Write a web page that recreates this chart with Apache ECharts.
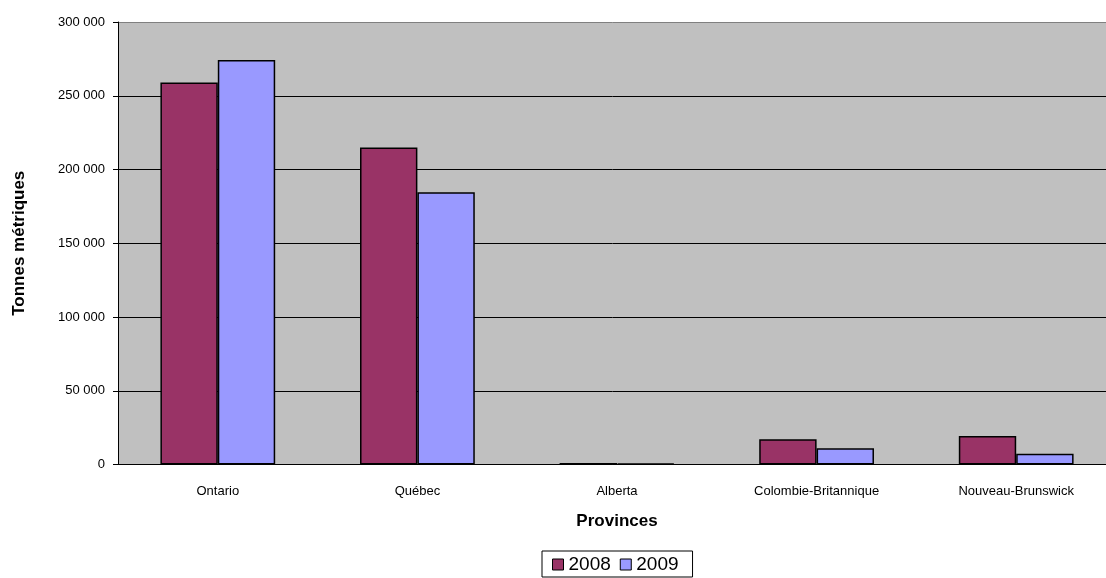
<!DOCTYPE html>
<html>
<head>
<meta charset="utf-8">
<script src="https://cdn.jsdelivr.net/npm/echarts@6/dist/echarts.min.js"></script>
<style>html,body{margin:0;padding:0;background:#fff}#c{width:1106px;height:578px}</style>
</head>
<body>
<div id="c"></div>
<script>
var categories = ['Ontario', 'Québec', 'Alberta', 'Colombie-Britannique', 'Nouveau-Brunswick'];
var values2008 = [259000, 215000, 1100, 17100, 19400];
var values2009 = [274300, 184500, 700, 11000, 7300];
var yTicks = [0, 50000, 100000, 150000, 200000, 250000, 300000];

function fmt(v) { return String(v).replace(/\B(?=(\d{3})+(?!\d))/g, ' '); }

var chart = echarts.init(document.getElementById('c'));
chart.setOption({
  animation: false,
  textStyle: { fontFamily: 'Liberation Sans, Arial, sans-serif', color: '#000' },
  grid: { left: 118, top: 22, width: 998, height: 442.5, outerBoundsMode: 'none', containLabel: false,
          backgroundColor: '#C0C0C0', show: true, borderWidth: 0 },
  legend: {
    bottom: 1, left: 542,
    data: ['2008', '2009'],
    itemWidth: 11, itemHeight: 11, itemGap: 9,
    icon: 'rect',
    textStyle: { fontSize: 19, color: '#000', fontFamily: 'Liberation Sans, Arial, sans-serif' },
    borderColor: '#000', borderWidth: 1, borderRadius: 0,
    padding: [4, 14, 3, 10],
    itemStyle: { borderColor: '#000', borderWidth: 1 }
  },
  xAxis: {
    type: 'category', data: categories,
    name: 'Provinces', nameLocation: 'middle', nameGap: 48,
    nameTextStyle: { fontSize: 17, fontWeight: 'bold', color: '#000' },
    axisLine: { lineStyle: { color: '#000', width: 1 } },
    axisTick: { length: 5, lineStyle: { color: '#000' } },
    axisLabel: { fontSize: 13, color: '#000', margin: 20 },
    splitLine: { show: false }
  },
  yAxis: {
    type: 'value', min: 0, max: 300000, interval: 50000,
    name: 'Tonnes métriques', nameLocation: 'middle', nameGap: 90,
    nameTextStyle: { fontSize: 17, fontWeight: 'bold', color: '#000' },
    axisLine: { show: true, lineStyle: { color: '#000', width: 1 } },
    axisTick: { show: true, length: 5, lineStyle: { color: '#000' } },
    axisLabel: { fontSize: 13, color: '#000', margin: 13, formatter: function (v) { return fmt(v); } },
    splitLine: { show: true, lineStyle: { color: ['#000', '#000', '#000', '#000', '#000', '#000', '#808080'], width: 1 } }
  },
  series: [
    { name: '2008', type: 'bar', data: values2008, barGap: '0%', barCategoryGap: '42.5%',
      itemStyle: { color: '#993366', borderColor: '#000', borderWidth: 1.5 } },
    { name: '2009', type: 'bar', data: values2009, barGap: '0%', barCategoryGap: '42.5%',
      itemStyle: { color: '#9999FF', borderColor: '#000', borderWidth: 1.5 } }
  ]
});
</script>
</body>
</html>
